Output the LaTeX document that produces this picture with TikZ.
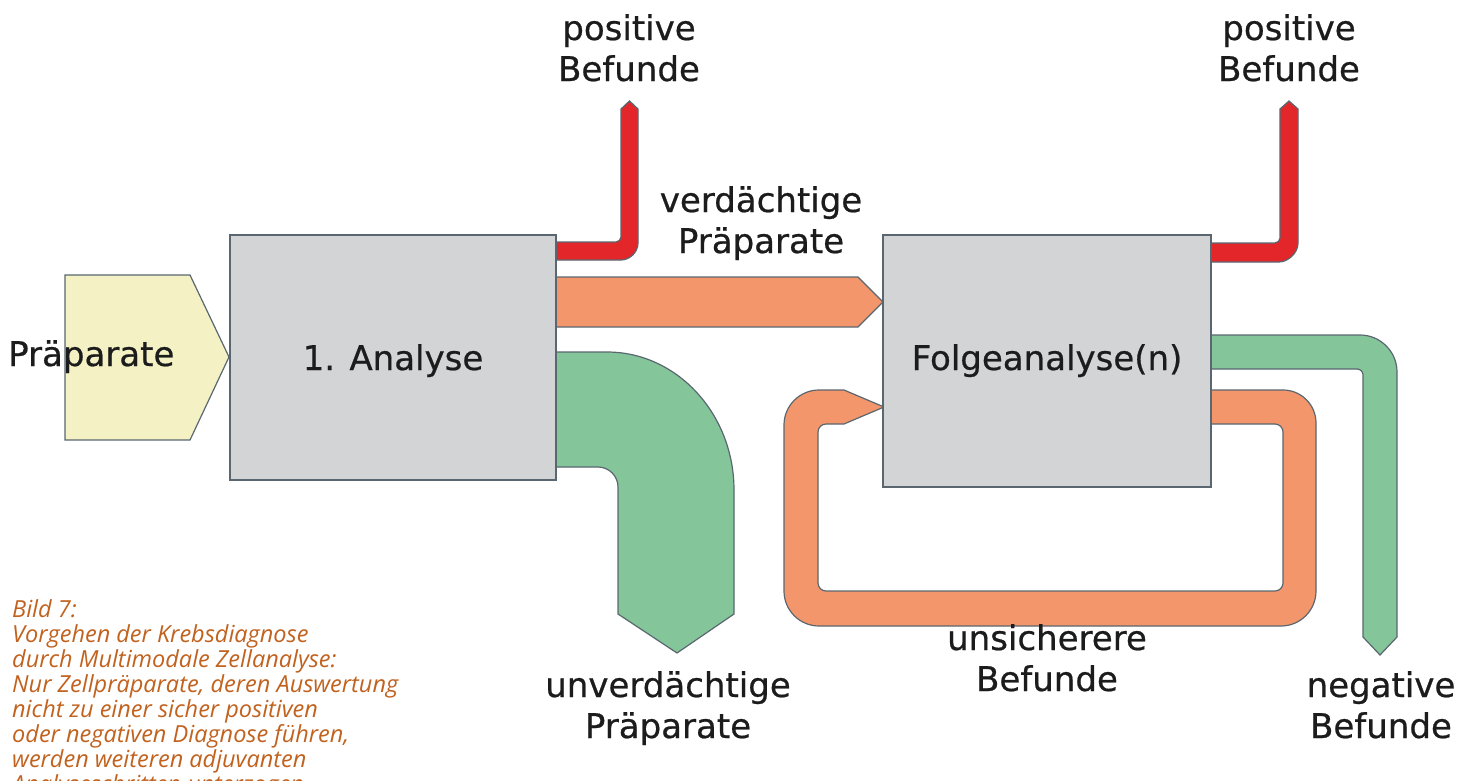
\documentclass[tikz,border=0pt]{standalone}
\usepackage{fontspec}
\setmainfont{DejaVu Sans}
\newfontfamily\lblfont{DejaVu Sans}[FakeBold=0.6]
\newfontfamily\capfont{Open Sans}
\definecolor{boxc}{HTML}{D3D4D6}
\definecolor{yelc}{HTML}{F4F2C4}
\definecolor{redc}{HTML}{E2262A}
\definecolor{orac}{HTML}{F4966B}
\definecolor{grec}{HTML}{84C59A}
\definecolor{edgec}{HTML}{5A6770}
\definecolor{capc}{HTML}{C1621E}
\definecolor{txtc}{HTML}{1C1C1C}
\newcommand\twol[2]{\begin{tabular}[t]{@{}c@{}}#1\\#2\end{tabular}}
\begin{document}
\begin{tikzpicture}[x=1pt,y=-1pt,
  flow/.style={draw=edgec, line width=1.2pt, line join=miter},
  redflow/.style={flow, fill=redc},
  oraflow/.style={flow, fill=orac},
  greflow/.style={flow, fill=grec},
  yelflow/.style={flow, fill=yelc},
  stagebox/.style={draw=edgec, fill=boxc, line width=1.4pt, inner sep=0pt, text=txtc,
    font=\lblfont\fontsize{34}{41}\selectfont},
  lbl/.style={text=txtc, font=\lblfont\fontsize{34}{41}\selectfont, inner sep=0pt, anchor=base},
  captext/.style={text=capc, font=\capfont\itshape\fontsize{23.5}{24}\selectfont, inner sep=0pt, anchor=base west}]
\clip (0,0) rectangle (1472,780);
\fill[white] (0,0) rectangle (1472,780);

% input pentagon
\draw[yelflow] (65,275) -- (190,275) -- (229,357) -- (190,440) -- (65,440) -- cycle;

% red arrow from 1. Analyse
\draw[redflow] (550,242) -- (616,242) .. controls (618.8,242) and (621,239.2) .. (621,237)
  -- (621,109) -- (629.5,101) -- (638,109) -- (638,243)
  .. controls (638,252.4) and (629.6,260) .. (621,260) -- (550,260) -- cycle;

% red arrow from Folgeanalyse
\draw[redflow] (1205,243) -- (1275,243) .. controls (1277.8,243) and (1280,240.2) .. (1280,238)
  -- (1280,109) -- (1289,101) -- (1298,109) -- (1298,243)
  .. controls (1298,253.5) and (1287.5,262) .. (1279,262) -- (1205,262) -- cycle;

% orange arrow to Folgeanalyse
\draw[oraflow] (550,277) -- (858,277) -- (883,302) -- (858,327) -- (550,327) -- cycle;

% big green arrow
\draw[greflow] (550,352) -- (607,352) .. controls (677,352) and (734,414) .. (734,490)
  -- (734,614) -- (677,653) -- (618,614) -- (618,487)
  .. controls (618,476) and (609,467) .. (598,467) -- (550,467) -- cycle;

% right green arrow
\draw[greflow] (1205,335) -- (1360,335) .. controls (1380.4,335) and (1397,351.6) .. (1397,372)
  -- (1397,637) -- (1380,655) -- (1363,637) -- (1363,375)
  .. controls (1363,371.7) and (1360.3,369) .. (1357,369) -- (1205,369) -- cycle;

% orange loop
\draw[oraflow] (1205,390) -- (1283,390) .. controls (1301.2,390) and (1316,404.8) .. (1316,423)
  -- (1316,591) .. controls (1316,610.3) and (1300.3,626) .. (1281,626)
  -- (819,626) .. controls (799.7,626) and (784,610.3) .. (784,591)
  -- (784,425) .. controls (784,405.7) and (799.7,390) .. (819,390)
  -- (844,390) -- (884,407) -- (844,424)
  -- (826,424) .. controls (821.6,424) and (818,427.6) .. (818,432)
  -- (818,583) .. controls (818,587.4) and (821.6,591) .. (826,591)
  -- (1275,591) .. controls (1279.4,591) and (1283,587.4) .. (1283,583)
  -- (1283,432) .. controls (1283,427.6) and (1279.4,424) .. (1275,424)
  -- (1205,424) -- cycle;

% stage boxes
\node[stagebox, minimum width=326pt, minimum height=245pt] (ana) at (393,357.5) {};
\node[stagebox, minimum width=328pt, minimum height=252pt] (folge) at (1047,361) {};
\node[lbl] (anatext) at (ana.center |- 0,370) {1. Analyse};
\node[lbl] (folgetext) at (folge.center |- 0,370) {Folgeanalyse(n)};

% labels
\node[lbl, anchor=base west] (prep) at (8,366) {Präparate};
\node[lbl] (pos1) at (629,40) {\twol{positive}{Befunde}};
\node[lbl] (pos2) at (1289,40) {\twol{positive}{Befunde}};
\node[lbl] (verd) at (761,212) {\twol{verdächtige}{Präparate}};
\node[lbl] (unverd) at (668,697) {\twol{unverdächtige}{Präparate}};
\node[lbl] (unsich) at (1047,650) {\twol{unsicherere}{Befunde}};
\node[lbl] (neg) at (1381,697) {\twol{negative}{Befunde}};

% caption
\node[captext] (cap) at (12,617) {\begin{tabular}[t]{@{}l@{}}Bild 7:\\
Vorgehen der Krebsdiagnose\\
durch Multimodale Zellanalyse:\\
Nur Zellpräparate, deren Auswertung\\
nicht zu einer sicher positiven\\
oder negativen Diagnose führen,\\
werden weiteren adjuvanten\\
Analyseschritten unterzogen.\end{tabular}};
\end{tikzpicture}
\end{document}
